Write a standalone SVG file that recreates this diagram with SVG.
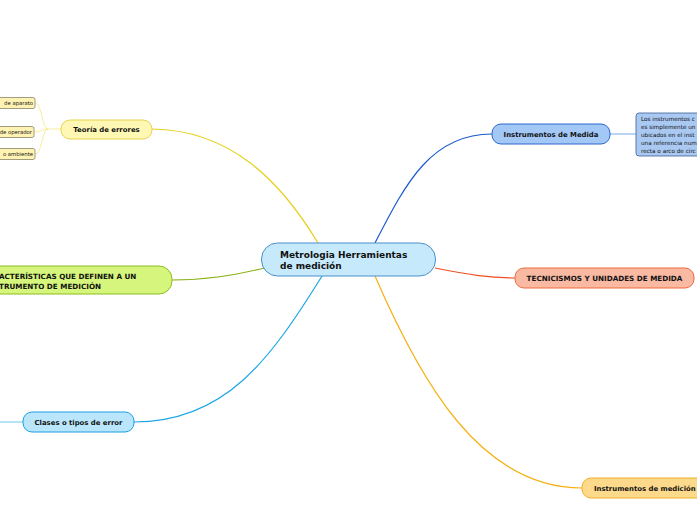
<svg xmlns="http://www.w3.org/2000/svg" width="697" height="520" viewBox="0 0 697 520">
<style>
text{font-family:"DejaVu Sans","Verdana",sans-serif;font-weight:bold;fill:#111}
.c{fill:none;stroke-width:1.2}
.t{font-size:6.9px}
.u{font-size:7.2px}
.s{font-size:5.3px;font-weight:normal}
.d{font-size:5.7px;font-weight:normal}
</style>
<rect width="697" height="520" fill="#fff"/>
<g id="connectors">
<path class="c" d="M318,243 C280,180 230,130 152,129" stroke="#e6d01e"/>
<path class="c" d="M375,243 C405,185 430,134 492,134" stroke="#1a58d0"/>
<path class="c" d="M265,268 C230,276 205,280 172,280" stroke="#86b010"/>
<path class="c" d="M322,276 C270,360 225,422 134,422" stroke="#1ca6e6"/>
<path class="c" d="M435,268 C470,275 490,278 515,278" stroke="#f05020"/>
<path class="c" d="M375,276 C420,380 480,488 582,488" stroke="#f5b012"/>
<path class="c" d="M610,134 L636,134" stroke="#8ab8f0" stroke-width="0.8"/>
<path class="c" d="M0,422 L23,422" stroke="#8ad0f5" stroke-width="0.8"/>
<g stroke="#f5e880" stroke-width="0.8" fill="none">
<path d="M61,129 L48,129"/>
<path d="M48,129 C42,129 42,103 35,103"/>
<path d="M48,129 C42,129 41,132 34,132"/>
<path d="M48,129 C42,129 42,154 35,154"/>
</g>
</g>
<g id="central">
<rect x="261.5" y="243" width="174" height="33" rx="16" fill="#c6eafb" stroke="#4a8fcb"/>
<text x="280" y="258" font-size="9px">Metrologia Herramientas</text>
<text x="280" y="269" font-size="9px">de medición</text>
</g>
<g id="teoria">
<rect x="61" y="120" width="91" height="19" rx="9" fill="#fff8b4" stroke="#e6d44a"/>
<text class="t" x="106.5" y="132" text-anchor="middle">Teoría de errores</text>
</g>
<g id="aparato">
<rect x="-5" y="97.5" width="40" height="11" rx="2" fill="#fff3b4" stroke="#8a8468" stroke-width="0.8"/>
<text class="s" x="33" y="105" text-anchor="end">de aparato</text>
</g>
<g id="operador">
<rect x="-5" y="126.5" width="39" height="11" rx="2" fill="#fff3b4" stroke="#8a8468" stroke-width="0.8"/>
<text class="s" x="32" y="134" text-anchor="end">de operador</text>
</g>
<g id="ambiente">
<rect x="-5" y="148.5" width="40" height="11" rx="2" fill="#fff3b4" stroke="#8a8468" stroke-width="0.8"/>
<text class="s" x="33" y="156" text-anchor="end">o ambiente</text>
</g>
<g id="caracteristicas">
<rect x="-20" y="266" width="192" height="28" rx="13" fill="#d5f57c" stroke="#8cbd1f"/>
<text class="u" x="-1" y="278.5">ACTERÍSTICAS QUE DEFINEN A UN</text>
<text class="u" x="-1" y="288.5">TRUMENTO DE MEDICIÓN</text>
</g>
<g id="clases">
<rect x="23" y="412" width="111" height="20" rx="9" fill="#b9e6fb" stroke="#1aa0e2"/>
<text class="t" x="78.5" y="424.5" text-anchor="middle">Clases o tipos de error</text>
</g>
<g id="medida">
<rect x="492" y="124" width="118" height="20" rx="9" fill="#a3c8f6" stroke="#2a66cc"/>
<text class="t" x="551" y="136.5" text-anchor="middle">Instrumentos de Medida</text>
</g>
<g id="detalle">
<rect x="636" y="113" width="80" height="43" rx="3" fill="#a9c9f2" stroke="#3d5f95" stroke-width="0.8"/>
<text class="d" x="641" y="121">Los instrumentos c</text>
<text class="d" x="641" y="129">es simplemente un</text>
<text class="d" x="641" y="137">ubicados en el inst</text>
<text class="d" x="641" y="145">una referencia num</text>
<text class="d" x="641" y="152.5">recta o arco de círc</text>
</g>
<g id="tecnicismos">
<rect x="515" y="268" width="179" height="20" rx="9" fill="#f9b9a3" stroke="#ee6a3c"/>
<text class="u" x="604.5" y="280.5" text-anchor="middle">TECNICISMOS Y UNIDADES DE MEDIDA</text>
</g>
<g id="medicion">
<rect x="582" y="478" width="130" height="20" rx="9" fill="#fcd98b" stroke="#f0b020"/>
<text class="t" x="594" y="490.5">Instrumentos de medición</text>
</g>
</svg>
